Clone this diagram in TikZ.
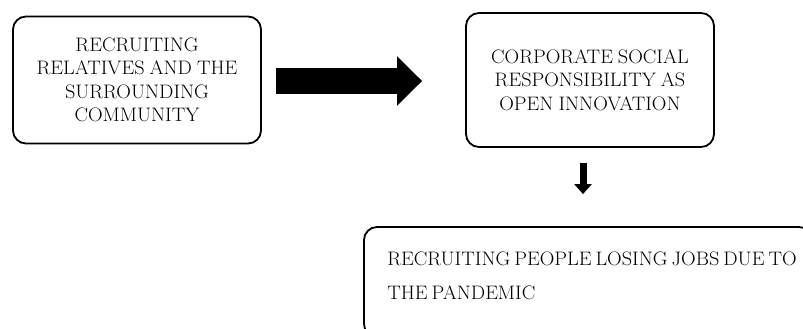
\documentclass[tikz,border=0pt]{standalone}
\usepackage{fontspec}
\setmainfont{Latin Modern Roman}[FakeStretch=1.04]
\usetikzlibrary{arrows.meta}
\newcommand\boxfontA{\fontsize{19.5}{23.5}\selectfont\spaceskip 5pt\relax}
\newcommand\boxfontB{\fontsize{19.5}{34}\selectfont\spaceskip 4pt\relax}
\begin{document}
\begin{tikzpicture}[x=1pt,y=-1pt,
  box/.style={draw, line width=1.8pt, rounded corners=13pt, inner sep=0pt},
  small/.style={font=\boxfontA, align=center},
  big/.style={font=\boxfontB, align=left},
  fatarrow/.style={line width=25pt, -{Triangle[length=25pt,width=48pt]}},
  thinarrow/.style={line width=7pt, -{Triangle[length=10pt,width=17pt]}}]
\useasboundingbox (0,0) rectangle (803,329);
\clip (0,0) rectangle (803,329);
\node[box, small, minimum width=248pt, minimum height=127pt] (b1) at (137,80)
  {RECRUITING\\RELATIVES AND THE\\SURROUNDING\\COMMUNITY};
\node[box, small, minimum width=248pt, minimum height=134pt] (b2) at (590,80)
  {CORPORATE SOCIAL\\RESPONSIBILITY AS\\OPEN INNOVATION};
\node[box, minimum width=448pt, minimum height=110pt] (b3) at (588,282) {};
\node[big, anchor=west, inner sep=0pt] (t3) at ([xshift=24pt,yshift=6.5pt]b3.west)
  {RECRUITING PEOPLE LOSING JOBS DUE TO\\THE PANDEMIC};
\draw[fatarrow] ([xshift=14pt,yshift=-1pt]b1.east) -- ([xshift=-43pt,yshift=-1pt]b2.west);
\draw[thinarrow] ([shift={(-7,15)}]b2.south) -- ([shift={(-5,-32)}]b3.north);
\end{tikzpicture}
\end{document}
